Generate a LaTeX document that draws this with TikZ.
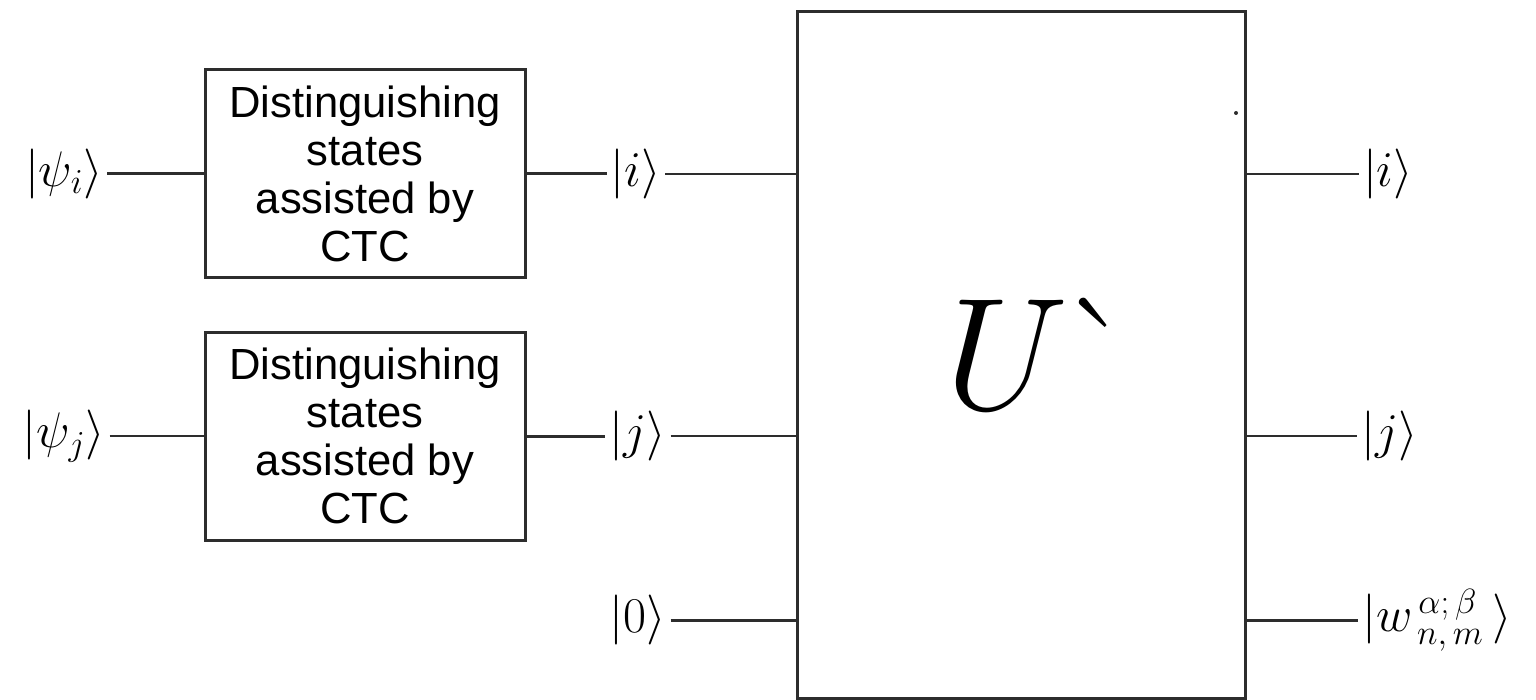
\RequirePackage{fix-cm}
\documentclass[tikz,border=0pt]{standalone}
\usepackage{fontspec}
\newfontfamily\boxfont{Liberation Sans}
\usepackage{tikz}
\usetikzlibrary{positioning, calc}
\definecolor{WireGray}{RGB}{45, 45, 45}

\begin{document}
\begin{tikzpicture}[x=0.5pt,y=-0.5pt,
    procbox/.style={draw=WireGray, line width=1.5pt, minimum width=160pt, minimum height=104pt,
      align=center, inner sep=0pt, font=\boxfont\fontsize{21.8}{24}\selectfont},
    ketlabel/.style={inner sep=2pt, font=\fontsize{25}{28}\selectfont},
    gatebox/.style={draw=WireGray, line width=1.5pt, minimum width=224pt, minimum height=343pt, inner sep=0pt},
    wire/.style={draw=WireGray, line width=1pt},
    thickwire/.style={draw=WireGray, line width=1.5pt}]
  \path[use as bounding box] (0,0) rectangle (1536,700);
  \node[procbox] (dist1) at (365,174) {Distinguishing\\states\\assisted by\\CTC};
  \node[procbox] (dist2) at (365,436) {Distinguishing\\states\\assisted by\\CTC};
  \node[gatebox] (gate) at (1021,355) {};
  \node[font=\fontsize{80}{86}\selectfont, inner sep=0pt] (gatelabel) at (1040,354) {$U$\kern-4pt\`{}};
  \node[ketlabel] (psii) at (64,174) {$|\psi_i\rangle$};
  \node[ketlabel] (psij) at (64,436) {$|\psi_j\rangle$};
  \node[ketlabel] (iin) at (636,174) {$|i\rangle$};
  \node[ketlabel] (jin) at (638,436) {$|j\rangle$};
  \node[ketlabel] (zeroin) at (638,620) {$|0\rangle$};
  \node[ketlabel] (iout) at (1388,174) {$|i\rangle$};
  \node[ketlabel] (jout) at (1390,436) {$|j\rangle$};
  \node[ketlabel, anchor=west] (wout) at (1358,620) {$|w^{\,\alpha;\,\beta}_{\,n,\,m}\,\rangle$};
  \fill[WireGray] (1236,113) circle (1pt);
  \draw[thickwire] (psii.east) -- (dist1.west);
  \draw[thickwire] (dist1.east) -- (iin.west);
  \draw[wire] (iin.east) -- (gate.west |- iin.east);
  \draw[wire] (gate.east |- iout.west) -- (iout.west);
  \draw[wire] (psij.east) -- (dist2.west);
  \draw[thickwire] (dist2.east) -- (jin.west);
  \draw[wire] (jin.east) -- (gate.west |- jin.east);
  \draw[wire] (gate.east |- jout.west) -- (jout.west);
  \draw[thickwire] (zeroin.east) -- (gate.west |- zeroin.east);
  \draw[thickwire] (gate.east |- wout.west) -- (wout.west);
\end{tikzpicture}
\end{document}
